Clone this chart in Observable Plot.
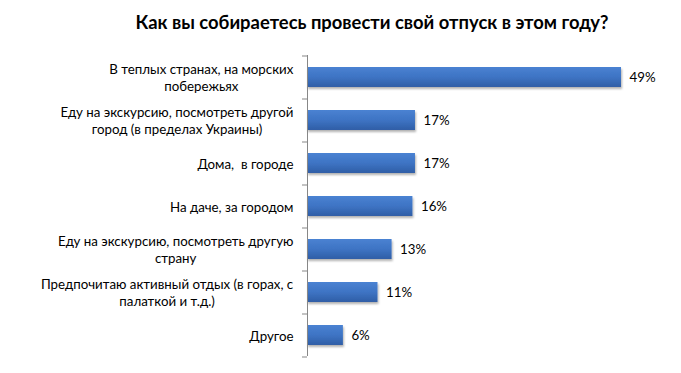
<!DOCTYPE html>
<html>
<head>
<meta charset="utf-8">
<script src="https://cdn.jsdelivr.net/npm/d3@7"></script>
<script src="https://cdn.jsdelivr.net/npm/@observablehq/plot@0.6"></script>
<style>
  html, body { margin: 0; padding: 0; background: #fff; }
  #wrap { width: 681px; height: 373px; overflow: hidden; }
  #title { height: 45px; line-height: 45px; padding-left: 63px; text-align: center;
           font-family: Lato, sans-serif; font-weight: bold; font-size: 18.4px; color: #000; box-sizing: border-box; white-space: nowrap; }
</style>
</head>
<body>
<div id="wrap">
  <div id="title">Как вы собираетесь провести свой отпуск в этом году?</div>
  <div id="chart"></div>
</div>
<script>
const categories = [
  "В теплых странах, на морских\nпобережьях",
  "Еду на экскурсию, посмотреть другой\nгород (в пределах Украины)",
  "Дома,  в городе",
  "На даче, за городом",
  "Еду на экскурсию, посмотреть другую\nстрану",
  "Предпочитаю активный отдых (в горах, с\nпалаткой и т.д.)",
  "Другое"
];
const values = [49.0, 16.85, 16.85, 16.45, 13.2, 11.0, 5.6];
const valueLabels = ["49%", "17%", "17%", "16%", "13%", "11%", "6%"];

const data = categories.map((c, i) => ({cat: c, value: values[i], label: valueLabels[i]}));
const step = 43;

const chart = Plot.plot({
  width: 681,
  height: 328,
  marginTop: 10,
  marginBottom: 17,
  marginLeft: 307,
  marginRight: 60,
  style: {fontFamily: "Lato, sans-serif", fontSize: "13.3px", color: "#000", background: "transparent"},
  x: {domain: [0, 49], axis: null},
  y: {domain: categories, paddingInner: 0.535, paddingOuter: 0.2675, label: null},
  marks: [
    Plot.barX(data, {y: "cat", x: "value", fill: "url(#barGrad)"}),
    Plot.text(data, {y: "cat", x: "value", text: "label", dx: 8, textAnchor: "start", fill: "#000", fontSize: 13.3}),
    Plot.ruleX([0], {stroke: "#878787", strokeWidth: 1}),
    Plot.ruleY(categories, {y: d => d, x1: -0.78, x2: 0, dy: -step / 2, stroke: "#878787"}),
    Plot.ruleY(categories.slice(-1), {y: d => d, x1: -0.78, x2: 0, dy: step / 2, stroke: "#878787"}),
    Plot.axisY({tickSize: 0, tickPadding: 14, fontSize: 13.3, lineHeight: 1.27, fill: "#000"})
  ]
});
document.getElementById("chart").appendChild(chart);

// gradient + shadow defs
const svg = d3.select(chart);
const defs = svg.insert("defs", ":first-child");
const g = defs.append("linearGradient").attr("id", "barGrad").attr("x1", 0).attr("y1", 0).attr("x2", 0).attr("y2", 1);
g.append("stop").attr("offset", "0%").attr("stop-color", "#4A82D2");
g.append("stop").attr("offset", "50%").attr("stop-color", "#3E74C4");
g.append("stop").attr("offset", "100%").attr("stop-color", "#2F5EA6");
const f = defs.append("filter").attr("id", "shadow").attr("x", "-5%").attr("y", "-20%").attr("width", "115%").attr("height", "160%");
f.append("feDropShadow").attr("dx", 1).attr("dy", 2).attr("stdDeviation", 1).attr("flood-color", "#000").attr("flood-opacity", 0.3);
svg.selectAll("rect").attr("filter", "url(#shadow)");

// center multi-line category labels, right-aligned as a block
svg.selectAll("g[aria-label='y-axis tick label'] text").each(function() {
  const w = this.getBBox().width;
  this.setAttribute("text-anchor", "middle");
  const tspans = this.querySelectorAll("tspan");
  if (tspans.length) tspans.forEach(t => t.setAttribute("x", -w / 2));
  else this.setAttribute("x", -w / 2);
});
</script>
</body>
</html>
